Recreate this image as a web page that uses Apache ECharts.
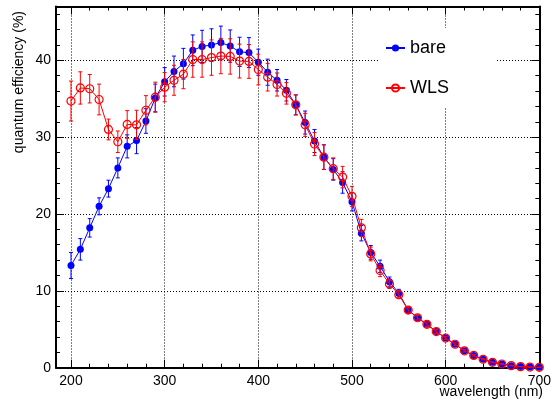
<!DOCTYPE html>
<html>
<head>
<meta charset="utf-8">
<script src="https://cdn.jsdelivr.net/npm/echarts@6/dist/echarts.min.js"></script>
<style>
  html, body { margin: 0; padding: 0; background: #fff; }
  #chart { width: 554px; height: 403px; }
</style>
</head>
<body>
<div id="chart"></div>
<script>
// ---- data ----
const wavelengths = [200,210,220,230,240,250,260,270,280,290,300,310,320,330,340,350,360,370,380,390,400,410,420,430,440,450,460,470,480,490,500,510,520,530,540,550,560,570,580,590,600,610,620,630,640,650,660,670,680,690,700];
const bare = [13.3,15.4,18.2,21.0,23.3,26.0,28.8,29.55,32.1,35.1,37.2,38.55,39.55,41.3,41.8,42.0,42.3,41.85,41.1,41.0,39.75,38.45,37.4,36.1,34.2,31.9,29.5,27.4,25.8,24.1,21.6,17.5,15.0,13.2,11.2,9.7,7.5,6.5,5.65,4.7,3.85,3.05,2.2,1.6,1.1,0.7,0.48,0.27,0.14,0.08,0.05];
const bareErr = [1.7,1.4,1.2,1.1,1.1,1.3,1.5,1.7,1.6,1.8,1.85,2.0,2.0,2.0,2.1,2.1,2.15,2.1,1.9,1.95,1.7,1.7,1.4,1.4,1.3,1.5,1.5,1.6,1.4,1.4,1.2,1.0,0.9,0.8,0.6,0.5,0.4,0.3,0.3,0.25,0.2,0.18,0.15,0.1,0.08,0.05,0.04,0.03,0.02,0.01,0.01];
const wls = [34.7,36.4,36.3,34.9,31.0,29.4,31.65,31.6,33.5,35.2,36.5,37.4,38.2,40.1,40.1,40.35,40.55,40.5,39.9,39.85,38.8,37.8,36.85,35.7,34.2,31.6,29.1,27.4,25.9,24.8,22.3,18.2,14.8,12.65,10.9,9.5,7.5,6.5,5.65,4.7,3.85,3.05,2.2,1.6,1.1,0.7,0.48,0.27,0.14,0.08,0.05];
const wlsErr = [2.6,2.1,1.85,2.0,1.35,1.4,1.8,1.9,1.9,1.95,1.9,1.95,1.9,2.3,2.3,2.3,2.3,2.3,2.2,2.2,2.0,1.8,1.5,1.4,1.3,1.5,1.5,1.6,1.4,1.4,1.3,1.1,0.9,0.8,0.6,0.5,0.4,0.3,0.3,0.25,0.2,0.18,0.15,0.1,0.08,0.05,0.04,0.03,0.02,0.01,0.01];
const seriesNames = ['bare', 'WLS'];
const xTitle = 'wavelength (nm)';
const yTitle = 'quantum efficiency (%)';

const FONT = 'Liberation Sans, Arial, Helvetica, sans-serif';
const BLUE = '#0000ff';
const RED = '#ff0000';

const barePts = wavelengths.map((w, i) => [w, bare[i]]);
const wlsPts = wavelengths.map((w, i) => [w, wls[i]]);
const bareErrPts = wavelengths.map((w, i) => [w, bare[i], bareErr[i]]);
const wlsErrPts = wavelengths.map((w, i) => [w, wls[i], wlsErr[i]]);

function errRenderer(color) {
  return function (params, api) {
    const x = api.value(0), y = api.value(1), e = api.value(2);
    const top = api.coord([x, y + e]);
    const bot = api.coord([x, y - e]);
    const hw = 2;
    const st = { stroke: color, lineWidth: 1 };
    return {
      type: 'group',
      children: [
        { type: 'line', shape: { x1: top[0], y1: top[1], x2: bot[0], y2: bot[1] }, style: st },
        { type: 'line', shape: { x1: top[0] - hw, y1: top[1], x2: top[0] + hw, y2: top[1] }, style: st },
        { type: 'line', shape: { x1: bot[0] - hw, y1: bot[1], x2: bot[0] + hw, y2: bot[1] }, style: st }
      ]
    };
  };
}

const frameLine = { show: true, onZero: false, lineStyle: { color: '#000', width: 2 } };
const tickCfg = { show: true, inside: true, length: 8, lineStyle: { color: '#000', width: 1 } };
const minorCfg = { show: true, splitNumber: 5, length: 4, lineStyle: { color: '#000', width: 1 } };
const gridLine = { show: true, showMinLine: false, showMaxLine: false, lineStyle: { color: '#000', width: 1, type: [1, 2] } };

const option = {
  backgroundColor: '#fff',
  animation: false,
  grid: { left: 56, top: 6.5, right: 10, bottom: 35.3, containLabel: false },
  xAxis: [
    {
      type: 'value', min: 184, max: 700, splitNumber: 5, position: 'bottom',
      axisLine: frameLine, axisTick: tickCfg, minorTick: minorCfg, splitLine: gridLine,
      axisLabel: { color: '#000', fontSize: 14, fontFamily: FONT, margin: 6,
        formatter: v => (v % 100 === 0 ? String(v) : '') }
    },
    {
      type: 'value', min: 184, max: 700, splitNumber: 5, position: 'top',
      axisLine: frameLine, axisTick: tickCfg, minorTick: minorCfg,
      splitLine: { show: false }, axisLabel: { show: false }
    }
  ],
  yAxis: [
    {
      type: 'value', min: 0, max: 47, interval: 10, position: 'left',
      axisLine: frameLine, axisTick: tickCfg, minorTick: minorCfg, splitLine: gridLine,
      axisLabel: { color: '#000', fontSize: 14, fontFamily: FONT, margin: 5,
        formatter: v => (v % 10 === 0 ? String(v) : '') }
    },
    {
      type: 'value', min: 0, max: 47, interval: 10, position: 'right',
      axisLine: frameLine, axisTick: tickCfg, minorTick: minorCfg,
      splitLine: { show: false }, axisLabel: { show: false }
    }
  ],
  legend: {
    data: seriesNames,
    orient: 'vertical',
    left: 380, top: 28,
    padding: [11, 46, 10, 5],
    backgroundColor: '#fff',
    itemWidth: 19, itemHeight: 9, itemGap: 22,
    textStyle: { color: '#000', fontSize: 18, fontFamily: FONT },
    selectedMode: false
  },
  graphic: [
    { type: 'text', x: 19, y: 11, rotation: Math.PI / 2,
      style: { text: yTitle, fill: '#000', fontSize: 14, fontFamily: FONT, align: 'right', verticalAlign: 'middle' } },
    { type: 'text', x: 543, y: 392,
      style: { text: xTitle, fill: '#000', fontSize: 14, fontFamily: FONT, align: 'right', verticalAlign: 'middle' } }
  ],
  series: [
    {
      name: 'bareErr', type: 'custom', xAxisIndex: 0, yAxisIndex: 0,
      data: bareErrPts, encode: { x: 0, y: 1 }, renderItem: errRenderer(BLUE), silent: true, z: 2
    },
    {
      name: seriesNames[0], type: 'line', xAxisIndex: 0, yAxisIndex: 0,
      data: barePts, symbol: 'circle', symbolSize: 7, showAllSymbol: true,
      lineStyle: { color: BLUE, width: 1 },
      itemStyle: { color: BLUE }, z: 3
    },
    {
      name: 'wlsErr', type: 'custom', xAxisIndex: 0, yAxisIndex: 0,
      data: wlsErrPts, encode: { x: 0, y: 1 }, renderItem: errRenderer(RED), silent: true, z: 4
    },
    {
      name: seriesNames[1], type: 'line', xAxisIndex: 0, yAxisIndex: 0,
      data: wlsPts, symbol: 'circle', symbolSize: 8, showAllSymbol: true,
      lineStyle: { color: RED, width: 1 },
      itemStyle: { color: 'rgba(255,255,255,0)', borderColor: RED, borderWidth: 1.2 }, z: 5
    }
  ]
};

const chart = echarts.init(document.getElementById('chart'), null, { renderer: 'canvas' });
chart.setOption(option);
</script>
</body>
</html>
